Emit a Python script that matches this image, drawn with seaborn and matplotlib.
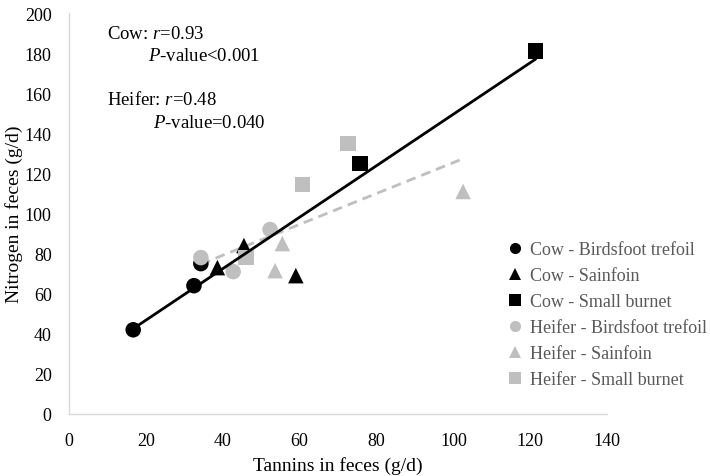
import matplotlib
matplotlib.use("Agg")
import matplotlib.pyplot as plt
import seaborn as sns
import pandas as pd
from matplotlib.lines import Line2D

# Data
cow_bt_x = [16.7, 32.5, 34.3]
cow_bt_y = [42, 64, 75]
cow_sf_x = [38.6, 45.5, 59.0]
cow_sf_y = [73, 84, 69]
cow_sb_x = [75.7, 121.4]
cow_sb_y = [125, 181]
hei_bt_x = [34.3, 42.7, 52.3]
hei_bt_y = [78, 71, 92]
hei_sf_x = [53.6, 55.5, 102.5]
hei_sf_y = [71.5, 85, 111]
hei_sb_x = [46.0, 60.7, 72.6]
hei_sb_y = [78, 114.5, 135]

groups = ["Cow - Birdsfoot trefoil", "Cow - Sainfoin", "Cow - Small burnet",
          "Heifer - Birdsfoot trefoil", "Heifer - Sainfoin", "Heifer - Small burnet"]
xs = [cow_bt_x, cow_sf_x, cow_sb_x, hei_bt_x, hei_sf_x, hei_sb_x]
ys = [cow_bt_y, cow_sf_y, cow_sb_y, hei_bt_y, hei_sf_y, hei_sb_y]

rows = []
for g, gx, gy in zip(groups, xs, ys):
    for a, b in zip(gx, gy):
        rows.append({"Tannins": a, "Nitrogen": b, "Group": g,
                     "Animal": g.split(" - ")[0]})
df = pd.DataFrame(rows)

sns.set_theme(style="white")
plt.rcParams["font.family"] = ["Liberation Serif", "DejaVu Serif"]
plt.rcParams["mathtext.fontset"] = "custom"
plt.rcParams["mathtext.rm"] = "Liberation Serif"
plt.rcParams["mathtext.it"] = "Liberation Serif:italic"

BLACK = "#000000"
GRAY = "#BFBFBF"
palette = {g: (BLACK if g.startswith("Cow") else GRAY) for g in groups}
markers = {g: m for g, m in zip(groups, ["o", "^", "s", "o", "^", "s"])}

fig = plt.figure(figsize=(7.1, 4.77), dpi=100)
ax = fig.add_axes([0.0972, 0.130, 0.758, 0.8406])

# Regression lines
cow = df[df.Animal == "Cow"]
hei = df[df.Animal == "Heifer"]
sns.regplot(data=hei, x="Tannins", y="Nitrogen", scatter=False, ci=None, ax=ax,
            truncate=True, line_kws=dict(color=GRAY, lw=2, ls=(0, (3.5, 2.2)), zorder=1))

sns.scatterplot(data=df, x="Tannins", y="Nitrogen", hue="Group", style="Group",
                palette=palette, markers=markers, s=125, linewidth=0,
                ax=ax, legend=False, zorder=3)

sns.regplot(data=cow, x="Tannins", y="Nitrogen", scatter=False, ci=None, ax=ax,
            truncate=True, line_kws=dict(color=BLACK, lw=2, zorder=4))

ax.set_xlim(0, 140)
ax.set_ylim(0, 200)
ax.set_xticks(range(0, 141, 20))
ax.set_yticks(range(0, 201, 20))
ax.tick_params(axis="both", length=0, labelsize=13, colors="black")
ax.tick_params(axis="x", pad=13)
ax.tick_params(axis="y", pad=12.5)
for side in ["top", "right"]:
    ax.spines[side].set_visible(False)
for side in ["left", "bottom"]:
    ax.spines[side].set_color("#D9D9D9")
    ax.spines[side].set_linewidth(1)
ax.set_xlabel("Tannins in feces (g/d)", fontsize=14, color="black", labelpad=5)
ax.set_ylabel("Nitrogen in feces (g/d)", fontsize=14, color="black", labelpad=1)

# Annotations
tk = dict(fontsize=13.5, color="black", transform=ax.transData, va="center", ha="left")
ax.text(10, 190, "Cow: $r$=0.93", **tk)
ax.text(20.6, 179, "$P$-value<0.001", **tk)
ax.text(10, 157, "Heifer: $r$=0.48", **tk)
ax.text(21.8, 145.5, "$P$-value=0.040", **tk)

# Legend
handles = [Line2D([], [], ls="", marker=markers[g], color=palette[g],
                  markersize=8, markeredgewidth=0) for g in groups]
leg = fig.legend(handles, groups, loc="upper left", bbox_to_anchor=(0.707, 0.508),
                 frameon=False, fontsize=13, handlelength=0.6, handletextpad=0.55,
                 labelspacing=0.5, borderaxespad=0)
for t in leg.get_texts():
    t.set_color("#595959")

fig.savefig("out.png", dpi=100)
